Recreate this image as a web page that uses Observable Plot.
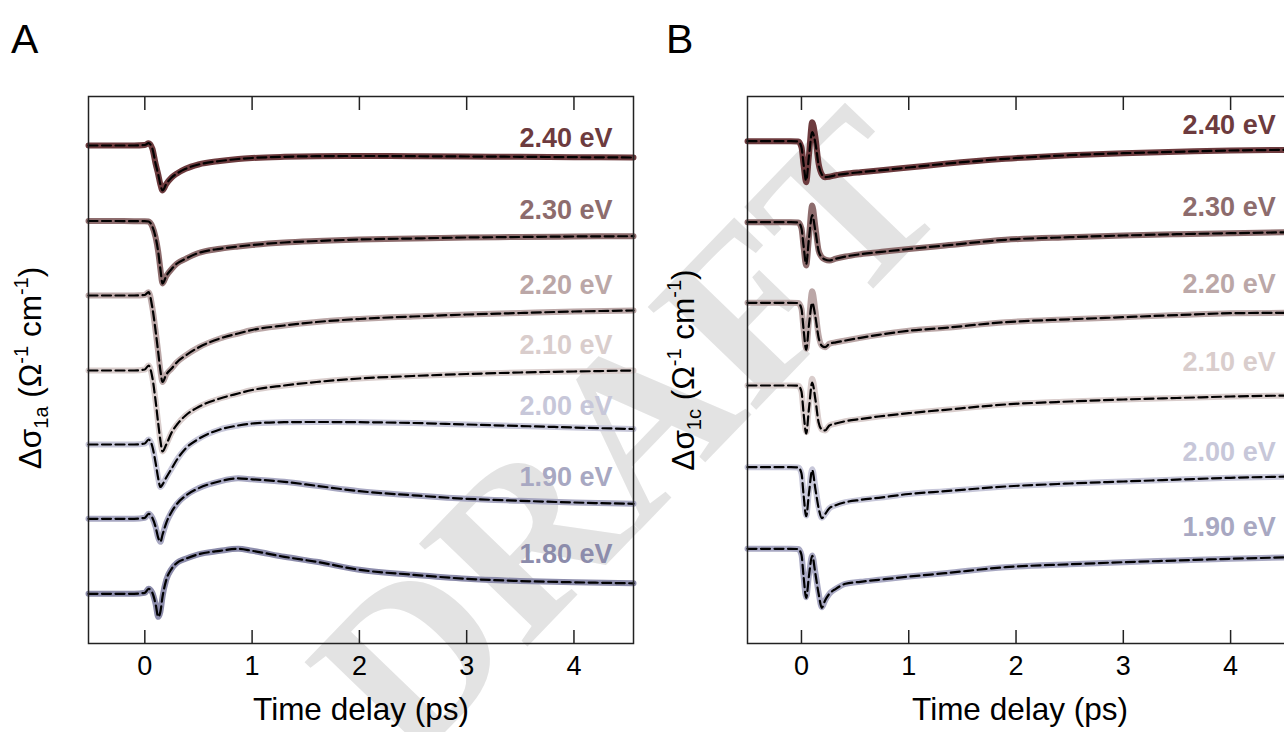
<!DOCTYPE html>
<html>
<head>
<meta charset="utf-8">
<script src="https://cdn.jsdelivr.net/npm/d3@7"></script>
<script src="https://cdn.jsdelivr.net/npm/@observablehq/plot@0.6"></script>
<style>
  html, body { margin: 0; padding: 0; background: #fff; overflow: hidden; }
  #fig { position: relative; width: 1284px; height: 732px; overflow: hidden; background: #fff; }
  #fig > svg { position: absolute; top: 0; }
</style>
</head>
<body>
<div id="fig"></div>
<script>
// ---------------- data ----------------
const FONT = "'Liberation Sans', Arial, Helvetica, sans-serif";

const xTicks = [0, 1, 2, 3, 4];
const xLabel = "Time delay (ps)";

// Panel A: Δσ1a traces (arbitrary units, offset vertically)
const namesA = ["2.40 eV", "2.30 eV", "2.20 eV", "2.10 eV", "2.00 eV", "1.90 eV", "1.80 eV"];
const colorsA = ["#6d3b3e", "#8d6c6d", "#bba7a7", "#d9cdcc", "#c7c7d9", "#a8a8c2", "#8c8cab"];
const offsetsA = [0, -75.5, -150, -225, -299, -373.3, -448.3];
const tA = [-0.525, -0.3, -0.1, 0, 0.035, 0.07, 0.1, 0.125, 0.145, 0.165, 0.2, 0.25, 0.3, 0.38, 0.5, 0.7, 0.87, 1.0, 1.3, 1.6, 2.0, 2.5, 3.0, 3.5, 4.0, 4.555];
const a240 = [0, 0, 0, 0.5, 2.3, -3, -18, -29, -39, -45, -38.5, -32, -28, -23.3, -19, -15.5, -13.5, -12.5, -11.3, -10.7, -10.5, -10.7, -11, -11.3, -11.7, -12];
const a230 = [0, 0, -0.2, -0.2, -0.5, -5.5, -16.2, -31, -48, -62.5, -55, -48, -42.5, -37.8, -32, -27.8, -25.5, -24, -21.5, -20, -18.5, -17.5, -16.5, -16, -15.5, -15.2];
const a220 = [0, 0, 0, 0.5, 3.3, -12, -35, -57, -75, -86.5, -79, -73, -66.7, -60, -52, -43, -38, -34.5, -30, -26.5, -23.5, -21, -19, -17.5, -16, -15];
const a210 = [0, 0, 0, 1, 5, -7, -30, -53, -70, -81, -74, -62, -54, -45, -36.5, -28, -23, -19.5, -15, -11.5, -8, -5.5, -3.5, -2, -1, 0];
const a200 = [0, 0, 0, 1, 5, -2, -18, -34, -42.5, -40, -33, -24, -15, -4, 5.5, 15, 19, 21, 22.3, 22.5, 22.3, 21.5, 20, 18.5, 17, 15.5];
const a190 = [0, 0, 0, 1, 5, 1, -8, -19, -23, -16, -4, 7, 15, 23, 30.5, 37.5, 40.5, 39.5, 37, 33, 27.6, 23.5, 20, 18, 16.3, 15];
const a180 = [0, 0, 0, 1, 5, 1, -10, -23, -18, -3, 14, 25, 31, 35, 39.5, 43, 45, 43, 37, 32, 24, 19, 15, 12.8, 11.5, 10.5];
const labelTA = 4.36;
const labelYA = [7, -65, -140, -200, -261, -332, -409];

// Panel B: Δσ1c traces (measured and fitted)
const namesB = ["2.40 eV", "2.30 eV", "2.20 eV", "2.10 eV", "2.00 eV", "1.90 eV"];
const colorsB = ["#6d3b3e", "#8d6c6d", "#bba7a7", "#d9cdcc", "#c7c7d9", "#a8a8c2"];
const offsetsB = [0, -81, -161.6, -244.3, -326, -407.6];
const tB = [-0.503, -0.3, -0.1, -0.03, 0, 0.02, 0.044, 0.07, 0.1, 0.13, 0.16, 0.19, 0.22, 0.26, 0.32, 0.41, 0.55, 0.72, 1.0, 1.34, 1.9, 2.5, 3.0, 3.5, 4.0, 4.577];
const b240 = [0, 0, 0, -0.3, -6, -24, -41, -14, 19, 4, -22.6, -33.3, -36, -35.5, -34, -32.6, -31, -29.3, -26.3, -22.6, -17.6, -14, -12, -10.6, -9.3, -8.6];
const b230 = [0, 0, 0, -0.3, -6, -25, -43.3, -15, 16.7, -5, -28.3, -35, -37.3, -38.3, -36.5, -34.3, -32, -30, -26.8, -23.3, -17.6, -15, -13.3, -12, -11, -10];
const b220 = [0, 0, 0, -0.3, -6, -27, -46, -18, 11.6, -8, -32.7, -43, -44.4, -41, -39.5, -37.7, -35, -32, -28, -25, -19.4, -16.5, -14.4, -12.3, -10.4, -10];
const b210 = [0, 0, 0, -0.3, -6, -28, -46.7, -20, 6.7, -10, -35, -44, -45, -40, -38, -35.7, -33.5, -31, -27.7, -24.3, -19, -16, -14, -12.5, -11, -10];
const b200 = [0, 0, 0, -0.3, -6, -28, -48.3, -24, -2, -20, -40, -50.6, -47, -41, -38, -35, -32.7, -30.6, -26.8, -24, -19.3, -16.3, -14.3, -12.4, -10.6, -9.3];
const b190 = [0, 0, 0, -0.3, -6, -28, -48.4, -26, -6.7, -24, -44, -58.4, -51.7, -45, -40, -35, -33, -31, -27.8, -24.4, -18.4, -15.5, -13.4, -11.7, -10, -8.4];
const f240 = [0, 0, 0, -0.3, -6, -23, -39.5, -15, 9, -2, -24, -33.3, -36, -35.5, -34, -32.6, -31, -29.3, -26.3, -22.6, -17.6, -14, -12, -10.6, -9.3, -8.6];
const f230 = [0, 0, 0, -0.3, -6, -24, -42, -16, 7, -9, -29, -35, -37.3, -38.3, -36.5, -34.3, -32, -30, -26.8, -23.3, -17.6, -15, -13.3, -12, -11, -10];
const f220 = [0, 0, 0, -0.3, -6, -27, -47, -22, 0, -14, -35, -43, -44.4, -41, -39.5, -37.7, -35, -32, -28, -25, -19.4, -16.5, -14.4, -12.3, -10.4, -10];
const f210 = [0, 0, 0, -0.3, -6, -28, -48, -23, 3, -14, -37, -44, -45, -40, -38, -35.7, -33.5, -31, -27.7, -24.3, -19, -16, -14, -12.5, -11, -10];
const f200 = [0, 0, 0, -0.3, -6, -28, -49, -26, -3, -22, -41, -51, -47, -41, -38, -35, -32.7, -30.6, -26.8, -24, -19.3, -16.3, -14.3, -12.4, -10.6, -9.3];
const f190 = [0, 0, 0, -0.3, -6, -28, -49, -27, -7, -25, -45, -59, -51.7, -45, -40, -35, -33, -31, -27.8, -24.4, -18.4, -15.5, -13.4, -11.7, -10, -8.4];
const labelTB = 4.42;
const labelYB = [15.7, -66, -143.3, -221.3, -311, -386];

// ---------------- helpers ----------------
function toRows(t, series, offsets, names) {
  const out = [];
  series.forEach((vals, i) => vals.forEach((v, j) => out.push({t: t[j], y: offsets[i] + v, name: names[i]})));
  return out;
}
function toLabels(tx, ys, names) {
  return names.map((n, i) => ({t: tx, y: ys[i], name: n}));
}

function panel({t, data, fit, offsets, names, colors, labelT, labelY, xDomain, yDomain}) {
  const dataRows = toRows(t, data, offsets, names);
  const fitRows = toRows(t, fit, offsets, names);
  const labels = toLabels(labelT, labelY, names);
  return Plot.plot({
    width: 660,
    height: 732,
    marginLeft: 88,
    marginRight: 27,
    marginTop: 96,
    marginBottom: 89,
    style: {fontFamily: FONT, background: "transparent", maxWidth: "none", overflow: "visible", color: "#000"},
    x: {domain: xDomain},
    y: {domain: yDomain, axis: null},
    color: {domain: names, range: colors},
    marks: [
      Plot.line(dataRows, {x: "t", y: "y", z: "name", stroke: "name", strokeWidth: 6, curve: "monotone-x", strokeLinejoin: "round", strokeLinecap: "round"}),
      Plot.line(fitRows, {x: "t", y: "y", z: "name", stroke: "#000", strokeWidth: 2.2, strokeDasharray: "9,4.5", curve: "monotone-x"}),
      Plot.text(labels, {x: "t", y: "y", text: "name", fill: "name", textAnchor: "end", lineAnchor: "middle", fontSize: 27, fontWeight: "bold"}),
      Plot.frame({stroke: "#222", strokeWidth: 1.5}),
      Plot.axisX({anchor: "top", ticks: xTicks, tickSize: -13, tickFormat: () => "", label: null, strokeWidth: 1.5, stroke: "#222"}),
      Plot.axisX({anchor: "bottom", ticks: xTicks, tickSize: -13, tickFormat: () => "", label: null, strokeWidth: 1.5, stroke: "#222"}),
      Plot.axisX({anchor: "bottom", ticks: xTicks, tickSize: 0, tickPadding: 12, tickFormat: d => String(d), fontSize: 27, label: null, fill: "#000"}),
      Plot.text([xLabel], {frameAnchor: "bottom", dy: 76, text: d => d, fontSize: 31.5, fill: "#000"})
    ]
  });
}

function addYLabel(svg, x, y, sub) {
  const t = d3.select(svg).append("text")
    .attr("transform", `translate(${x},${y}) rotate(-90)`)
    .attr("text-anchor", "middle")
    .attr("font-family", FONT)
    .attr("font-size", 31.5)
    .attr("fill", "#000");
  t.append("tspan").text("Δσ");
  t.append("tspan").attr("font-size", 20).attr("dy", 7).text(sub);
  t.append("tspan").attr("dy", -7).text(" (Ω");
  t.append("tspan").attr("font-size", 20).attr("dy", -13).text("-1");
  t.append("tspan").attr("dy", 13).text(" cm");
  t.append("tspan").attr("font-size", 20).attr("dy", -13).text("-1");
  t.append("tspan").attr("dy", 13).text(")");
}
function addLetter(svg, x, y, s) {
  d3.select(svg).append("text")
    .attr("x", x).attr("y", y)
    .attr("text-anchor", "start")
    .attr("font-family", FONT).attr("font-size", 41).attr("fill", "#000")
    .text(s);
}

// ---------------- build ----------------
const fig = document.getElementById("fig");

// watermark (underneath)
const wm = d3.select(fig).append("svg")
  .attr("width", 1284).attr("height", 732)
  .style("left", "0px");
wm.append("text")
  .attr("transform", "translate(628,434) rotate(-46)")
  .attr("text-anchor", "middle")
  .attr("dy", "0.33em")
  .attr("font-family", "'Liberation Serif', 'Times New Roman', serif")
  .attr("font-weight", "bold")
  .attr("font-size", 228)
  .attr("fill", "#e3e3e3")
  .text("DRAFT");

const svgA = panel({
  t: tA,
  data: [a240, a230, a220, a210, a200, a190, a180],
  fit: [a240, a230, a220, a210, a200, a190, a180],
  offsets: offsetsA, names: namesA, colors: colorsA,
  labelT: labelTA, labelY: labelYA,
  xDomain: [-0.525, 4.555], yDomain: [-498, 49]
});
svgA.style.left = "0px";
fig.appendChild(svgA);
addYLabel(svgA, 41, 368, "1a");
addLetter(svgA, 11, 53, "A");

const svgB = panel({
  t: tB,
  data: [b240, b230, b220, b210, b200, b190],
  fit: [f240, f230, f220, f210, f200, f190],
  offsets: offsetsB, names: namesB, colors: colorsB,
  labelT: labelTB, labelY: labelYB,
  xDomain: [-0.503, 4.577], yDomain: [-502.3, 44.7]
});
svgB.style.left = "659px";
fig.appendChild(svgB);
addYLabel(svgB, 35, 370, "1c");
addLetter(svgB, 7, 53, "B");
</script>
</body>
</html>
